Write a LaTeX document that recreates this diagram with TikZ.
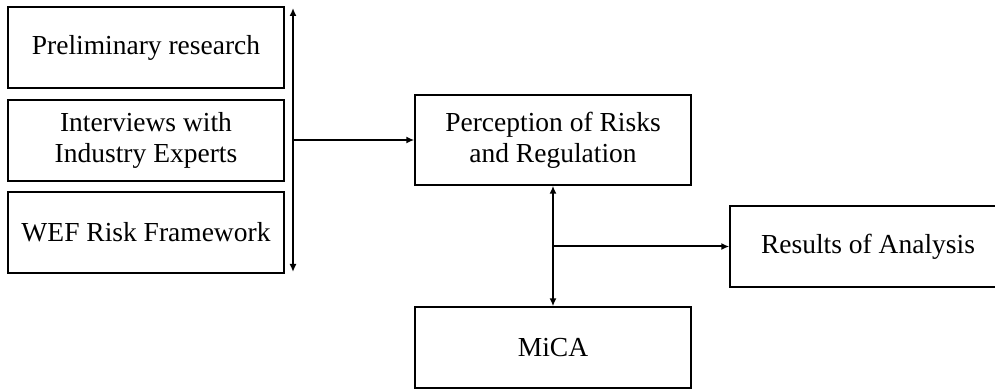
\documentclass[tikz,border=0pt]{standalone}
\usepackage{fontspec}
\setmainfont{Liberation Serif}
\usepackage{tikz}
\usetikzlibrary{arrows.meta,positioning,calc}
\tikzset{
  block/.style={draw=black, fill=white, line width=1.4pt, align=center,
                minimum width=276pt, minimum height=81pt, inner sep=0pt,
                font=\fontsize{27.5}{31}\selectfont},
  arrow/.style={-{Latex[length=8pt,width=7pt]}, line width=2pt, draw=black},
  twoway/.style={{Latex[length=8pt,width=7pt]}-{Latex[length=8pt,width=7pt]},
                 line width=2pt, draw=black}
}
\begin{document}
\begin{tikzpicture}[x=1pt,y=1pt]
  \useasboundingbox (0,0) rectangle (995,388);
  \clip (0,0) rectangle (995,388);

  % sources on the left
  \node[block] (prelim) at (146,340.5) {Preliminary research};
  \node[block] (interv) at (146,247.5) {Interviews with\\Industry Experts};
  \node[block] (wef)    at (146,155.5) {WEF Risk Framework};

  % bracket bar
  \coordinate (bartop) at (293,380);
  \coordinate (barbot) at (293,116);
  \draw[twoway] (barbot) -- (bartop);

  % centre column
  \node[block,minimum height=90pt] (perc) at (553,248) {Perception of Risks\\and Regulation};
  \node[block] (mica) at (553,40.5) {MiCA};
  \node[block] (res)  at (868,141.5) {Results of Analysis};

  \draw[arrow] (bartop |- perc.west) -- (perc.west);
  \draw[twoway] (perc.south) -- (mica.north);
  \draw[arrow] (perc.south |- res.west) -- (res.west);
\end{tikzpicture}
\end{document}
